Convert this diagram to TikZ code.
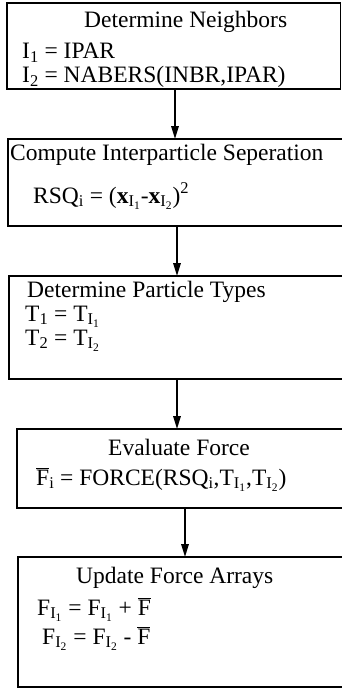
\documentclass[tikz,border=0pt]{standalone}
\usepackage{fontspec}
\setmainfont{Liberation Serif}
\usetikzlibrary{arrows.meta}
\newcommand\sbs[1]{\textsubscript{#1}}
\newcommand\fbar{$\overline{\mbox{F}}$}
\begin{document}
\begin{tikzpicture}[x=1pt,y=-1pt,
  box/.style={draw,line width=1.8pt,anchor=north west,inner sep=0pt,outer sep=0pt},
  txt/.style={anchor=base west,inner sep=0pt,font=\fontsize{23.5}{27}\selectfont},
  arr/.style={line width=1.6pt,-{Triangle[length=13pt,width=7.5pt]}}]
\useasboundingbox (0,0) rectangle (342,690);
% boxes
\node[box,minimum width=333.5pt,minimum height=86pt] (b1) at (7,3) {};
\node[box,minimum width=335pt,minimum height=87pt] (b2) at (8,139) {};
\node[box,minimum width=334pt,minimum height=103pt] (b3) at (9,276) {};
\node[box,minimum width=326pt,minimum height=79pt] (b4) at (17,429) {};
\node[box,minimum width=325pt,minimum height=130pt] (b5) at (18,557) {};
% texts
\node[txt] (t1) at (84,28) {Determine Neighbors};
\node[txt] (t1a) at (22,59) {I\sbs{1} = IPAR};
\node[txt] (t1b) at (22,83) {I\sbs{2} = NABERS(INBR,IPAR)};
\node[txt] (t2) at (10,160) {Compute Interparticle Seperation};
\node[txt] (t2a) at (33,203) {RSQ\sbs{i} = (\textbf{x}\sbs{I\sbs{1}}-\textbf{x}\sbs{I\sbs{2}})\textsuperscript{2}};
\node[txt] (t3) at (27,297) {Determine Particle Types};
\node[txt] (t3a) at (25,321) {T\sbs{1} = T\sbs{I\sbs{1}}};
\node[txt] (t3b) at (25,345) {T\sbs{2} = T\sbs{I\sbs{2}}};
\node[txt] (t4) at (108,455) {Evaluate Force};
\node[txt] (t4a) at (36,485) {\fbar\sbs{i} = FORCE(RSQ\sbs{i},T\sbs{I\sbs{1}},T\sbs{I\sbs{2}})};
\node[txt] (t5) at (76,583) {Update Force Arrays};
\node[txt] (t5a) at (37,615) {F\sbs{I\sbs{1}} = F\sbs{I\sbs{1}} + \fbar};
\node[txt] (t5b) at (42,644) {F\sbs{I\sbs{2}} = F\sbs{I\sbs{2}} - \fbar};
% arrows
\coordinate (a1) at (175,0);
\coordinate (a2) at (177,0);
\coordinate (a3) at (177,0);
\coordinate (a4) at (185,0);
\draw[arr] (b1.south -| a1) -- (b2.north -| a1);
\draw[arr] (b2.south -| a2) -- (b3.north -| a2);
\draw[arr] (b3.south -| a3) -- (b4.north -| a3);
\draw[arr] (b4.south -| a4) -- (b5.north -| a4);
\end{tikzpicture}
\end{document}
